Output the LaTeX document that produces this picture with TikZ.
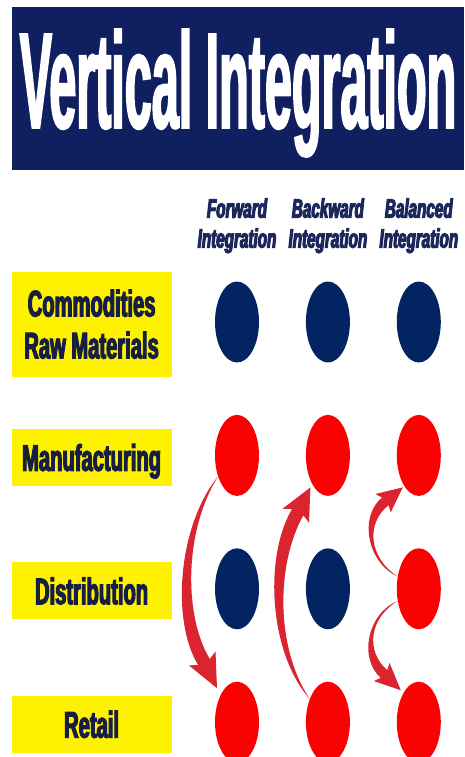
\documentclass[tikz,border=0pt]{standalone}
\usepackage{fontspec}
\usepackage{tikz}
\usetikzlibrary{calc,positioning,shapes.geometric}

\newfontfamily\titlefont[FakeStretch=0.354,FakeBold=1.2]{Liberation Sans}
\newfontfamily\headfont[FakeStretch=0.575,FakeBold=4]{Liberation Sans}
\newfontfamily\labelfont[FakeStretch=0.545,FakeBold=3]{Liberation Sans}

\definecolor{banner}{RGB}{16,31,96}
\definecolor{dotblue}{RGB}{2,36,96}
\definecolor{dotred}{RGB}{250,2,2}
\definecolor{arrred}{RGB}{218,37,48}
\definecolor{lbltext}{RGB}{22,30,66}
\definecolor{headtext}{RGB}{28,40,92}

\begin{document}
\begin{tikzpicture}
  [
   x=1pt, y=1pt,
   node distance=52pt and 46.5pt,
   rd/.style={ellipse,fill=dotred,inner sep=0pt,minimum width=44pt,minimum height=81pt},
   bd/.style={ellipse,fill=dotblue,inner sep=0pt,minimum width=44pt,minimum height=81pt},
   lbl/.style={fill=yellow,text=lbltext,font=\labelfont\bfseries\fontsize{37}{42}\selectfont,
               align=center,inner sep=0pt,text depth=0pt,minimum width=160pt,minimum height=57pt,yshift=-2pt},
   hd/.style={text=headtext,font=\headfont\bfseries\itshape\fontsize{26.5}{30}\selectfont,
              align=center,inner sep=0pt},
   arr/.style={fill=arrred}
  ]
   \fill[white] (0,0) rectangle (464,-757);
   \useasboundingbox (0,0) rectangle (464,-757);

   \node[fill=banner,text=white,inner sep=0pt,minimum width=452pt,minimum height=163pt,text depth=20pt,
         font=\titlefont\bfseries\fontsize{137}{140}\selectfont] (title) at (238,-88.5) {Vertical Integration};

   % the grid of dots, one column per kind of integration
   \node[bd] (c1) at (237,-322) {};
   \node[bd] (c2) [right=of c1] {};
   \node[bd] (c3) [right=of c2] {};
   \node[rd] (m1) [below=of c1] {};
   \node[rd] (m2) [below=of c2] {};
   \node[rd] (m3) [below=of c3] {};
   \node[bd] (d1) [below=of m1] {};
   \node[bd] (d2) [below=of m2] {};
   \node[rd] (d3) [below=of m3] {};
   \node[rd] (r1) [below=of d1] {};
   \node[rd] (r2) [below=of d2] {};
   \node[rd] (r3) [below=of d3] {};

   \node[hd] (hfwd) [above=28pt of c1] {Forward\\Integration};
   \node[hd] (hbwd) [above=28pt of c2] {Backward\\Integration};
   \node[hd] (hbal) [above=28pt of c3] {Balanced\\Integration};

   \node[lbl,minimum height=105pt] (lcom) [left=43pt of c1] {Commodities\\Raw Materials};
   \node[lbl] (lman) [left=43pt of m1] {Manufacturing};
   \node[lbl] (ldis) [left=43pt of d1] {Distribution};
   \node[lbl] (lret) [left=43pt of r1] {Retail};

   % tapered arrows
   \fill[arr] (m1.228) .. controls (176.7,-527.7) and (171.8,-623.2) .. (198.2,-665)
     -- (188.9,-665.4) -- ($(r1)+(-20,34)$) -- (215.5,-651.6) -- (209.8,-659)
     .. controls (184.2,-616.8) and (183.3,-532.3) .. (m1.228) -- cycle;
   \fill[arr] (r2.128) .. controls (275.2,-647.5) and (276.2,-563.3) .. (303.4,-515.3)
     -- (309,-522.7) -- ($(m2)+(-17.5,-32)$) -- (282.6,-508.7) -- (292,-509.1)
     .. controls (263.8,-556.7) and (268.8,-652.5) .. (r2.128) -- cycle;
   \fill[arr] (d3.150) .. controls (369.2,-557.8) and (365.2,-523.9) .. (388.5,-505.2)
     -- (390.7,-512.4) -- ($(m3)+(-16,-32)$) -- (375.3,-494) -- (382.1,-497.5)
     .. controls (358.8,-516.2) and (366.8,-562.2) .. (d3.150) -- cycle;
   \fill[arr] (d3.210) .. controls (366.8,-613.8) and (358.7,-658.8) .. (380.7,-677.8)
     -- (373.9,-681.1) -- ($(r3)+(-18,32)$) -- (389.5,-662.9) -- (387.3,-670.2)
     .. controls (365.3,-651.2) and (369.2,-618.2) .. (d3.210) -- cycle;

\end{tikzpicture}
\end{document}
